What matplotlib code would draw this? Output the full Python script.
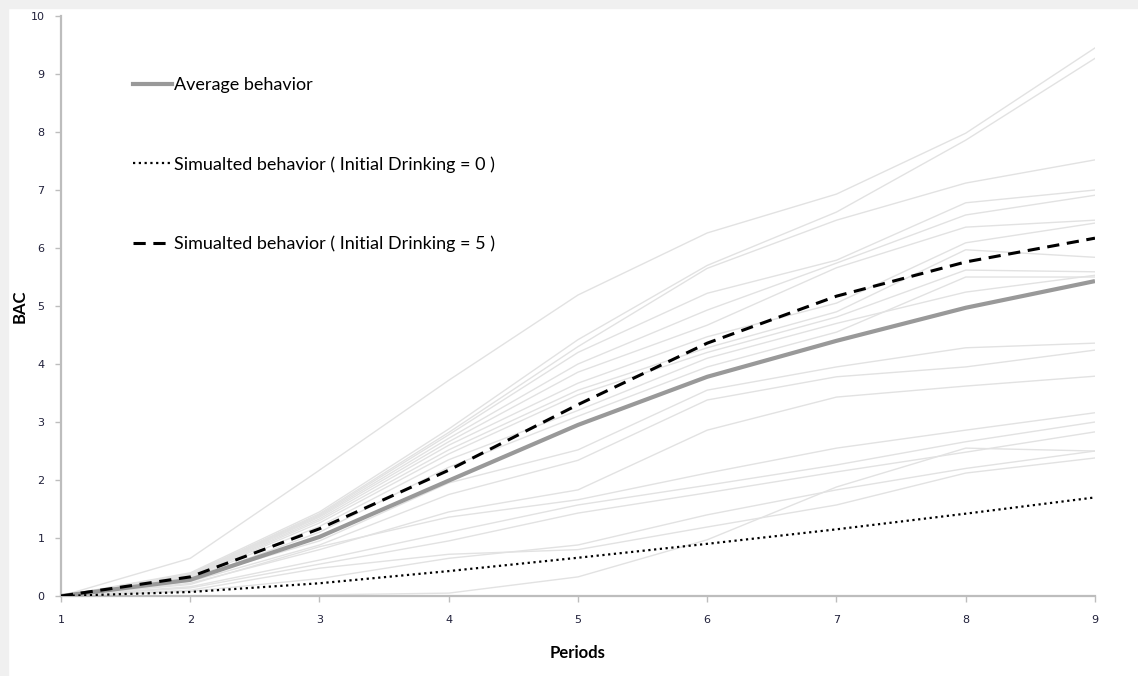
import matplotlib
matplotlib.use("Agg")
import matplotlib.pyplot as plt
from matplotlib.patches import Rectangle
from matplotlib.lines import Line2D

periods = [1, 2, 3, 4, 5, 6, 7, 8, 9]

# average behaviour and the two simulated runs
average = [0, 0.28, 1.02, 1.99, 2.95, 3.78, 4.40, 4.97, 5.43]
sim_init0 = [0, 0.07, 0.22, 0.43, 0.66, 0.90, 1.15, 1.42, 1.70]
sim_init5 = [0, 0.33, 1.16, 2.17, 3.30, 4.36, 5.17, 5.76, 6.17]

# individual subjects (light gray)
subjects = [
    [0, 0.65, 2.17, 3.72, 5.19, 6.26, 6.93, 7.98, 9.45],
    [0, 0.40, 1.45, 2.88, 4.42, 5.70, 6.62, 7.86, 9.27],
    [0, 0.38, 1.42, 2.82, 4.30, 5.65, 6.48, 7.12, 7.52],
    [0, 0.37, 1.40, 2.78, 4.20, 5.22, 5.79, 6.78, 7.00],
    [0, 0.36, 1.38, 2.72, 4.00, 4.93, 5.74, 6.57, 6.91],
    [0, 0.35, 1.36, 2.66, 3.86, 4.67, 5.66, 6.36, 6.48],
    [0, 0.34, 1.33, 2.60, 3.67, 4.47, 5.05, 6.09, 6.43],
    [0, 0.33, 1.30, 2.52, 3.55, 4.28, 4.90, 5.97, 5.84],
    [0, 0.32, 1.26, 2.45, 3.47, 4.20, 4.81, 5.62, 5.59],
    [0, 0.30, 1.20, 2.35, 3.20, 4.10, 4.70, 5.24, 5.53],
    [0, 0.28, 1.10, 2.22, 3.10, 3.95, 4.55, 5.50, 5.50],
    [0, 0.30, 0.95, 1.95, 2.52, 3.55, 3.95, 4.28, 4.36],
    [0, 0.25, 0.88, 1.75, 2.34, 3.38, 3.78, 3.95, 4.24],
    [0, 0.22, 0.80, 1.45, 1.83, 2.86, 3.43, 3.62, 3.79],
    [0, 0.20, 0.85, 1.36, 1.66, 2.12, 2.55, 2.86, 3.16],
    [0, 0.16, 0.62, 1.10, 1.57, 1.91, 2.26, 2.66, 3.00],
    [0, 0.14, 0.55, 0.95, 1.43, 1.78, 2.14, 2.48, 2.83],
    [0, 0.10, 0.48, 0.72, 0.80, 1.19, 1.57, 2.12, 2.38],
    [0, 0.08, 0.30, 0.65, 0.88, 1.40, 1.83, 2.20, 2.50],
    [0, 0.00, 0.02, 0.05, 0.33, 0.97, 1.88, 2.55, 2.50],
]

fig = plt.figure(figsize=(11.38, 6.76), dpi=100)
fig.patches.append(Rectangle((0, 0), 0.007, 1, transform=fig.transFigure,
                             color="#f0f0f0", zorder=0))
fig.patches.append(Rectangle((0, 0.988), 1, 0.012, transform=fig.transFigure,
                             color="#f0f0f0", zorder=0))
ax = fig.add_axes([0.0536, 0.1183, 0.9086, 0.858])

for s in subjects:
    ax.plot(periods, s, color="#e2e2e2", lw=1.0, zorder=1)

ax.plot(periods, average, color="#999999", lw=3.0, zorder=3,
        solid_capstyle="butt")
ax.plot(periods, sim_init0, color="black", lw=1.6, ls=(0, (1, 1.6)), zorder=4)
ax.plot(periods, sim_init5, color="black", lw=2.2, ls=(0, (4, 2.5)), zorder=4)

ax.set_xlim(1, 9)
ax.set_ylim(0, 10)
ax.set_xticks(periods)
ax.set_yticks(range(0, 11))
for side in ["top", "right"]:
    ax.spines[side].set_visible(False)
for side in ["left", "bottom"]:
    ax.spines[side].set_color("#bdbdbd")
    ax.spines[side].set_linewidth(1.6)
ax.tick_params(direction="out", length=4, width=1, color="#bdbdbd",
               labelsize=8, labelcolor="#20203a", pad=10)
ax.tick_params(axis="y", pad=8)

ax.set_xlabel("Periods", fontsize=12, fontweight="bold", family="Lato",
              labelpad=14)
ax.set_ylabel("BAC", fontsize=12, fontweight="bold", family="Lato")
ax.yaxis.set_label_coords(-0.032, 0.5)

handles = [
    Line2D([], [], color="#999999", lw=3.0),
    Line2D([], [], color="black", lw=1.6, ls=(0, (1, 1.6))),
    Line2D([], [], color="black", lw=2.2, ls=(0, (4, 2.5))),
]
labels = [
    "Average behavior",
    "Simualted behavior ( Initial Drinking = 0 )",
    "Simualted behavior ( Initial Drinking = 5 )",
]
ax.legend(handles, labels, loc="upper left", bbox_to_anchor=(0.0696, 0.895),
          frameon=False, handlelength=2.15, handletextpad=0.12,
          labelspacing=3.5, borderpad=0, borderaxespad=0,
          prop={"family": "Lato", "size": 13})

fig.savefig("out.png", dpi=100, facecolor="white")
